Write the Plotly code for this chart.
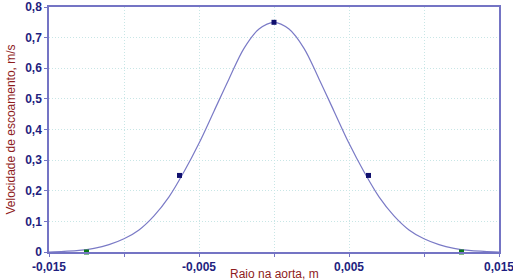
import plotly.graph_objects as go

# Curve (radius in m, velocity in m/s)
radius = [-0.015, -0.014, -0.013, -0.012, -0.011, -0.010, -0.009, -0.008,
          -0.007, -0.006, -0.005, -0.004, -0.003, -0.002, -0.001, 0.0,
          0.001, 0.002, 0.003, 0.004, 0.005, 0.006, 0.007, 0.008,
          0.009, 0.010, 0.011, 0.012, 0.013, 0.014, 0.015]
velocity = [0.0, 0.002, 0.005, 0.012, 0.024, 0.043, 0.072, 0.118,
            0.18, 0.262, 0.355, 0.46, 0.565, 0.665, 0.728, 0.75,
            0.728, 0.665, 0.565, 0.46, 0.355, 0.262, 0.18, 0.118,
            0.072, 0.043, 0.024, 0.012, 0.005, 0.002, 0.0]

# Marked points
blue_x = [-0.0063, 0.0, 0.0063]
blue_y = [0.25, 0.75, 0.25]
green_x = [-0.0125, 0.0125]
green_y = [0.0, 0.0]

x_tickvals = [-0.015, -0.01, -0.005, 0.0, 0.005, 0.01, 0.015]
x_ticktext = ["-0,015", "", "-0,005", "", "0,005", "", "0,015"]
y_tickvals = [0, 0.1, 0.2, 0.3, 0.4, 0.5, 0.6, 0.7, 0.8]
y_ticktext = ["0", "0,1", "0,2", "0,3", "0,4", "0,5", "0,6", "0,7", "0,8"]

x_title = "Raio na aorta, m"
y_title = "Velocidade de escoamento, m/s"

axis_color = "#7474c4"
label_color = "#1f1f80"
title_color = "#8e1c1c"
grid_color = "#c8e6e6"

fig = go.Figure()
fig.add_trace(go.Scatter(x=radius, y=velocity, mode="lines",
                         line=dict(color="#7a7ac6", width=1.2, shape="spline"),
                         hoverinfo="skip", cliponaxis=False))
fig.add_trace(go.Scatter(x=blue_x, y=blue_y, mode="markers",
                         marker=dict(symbol="square", size=5, color="#10106e"),
                         cliponaxis=False))
fig.add_trace(go.Scatter(x=green_x, y=green_y, mode="markers",
                         marker=dict(symbol="square", size=5, color="#0a7a1a"),
                         cliponaxis=False))

fig.update_layout(
    width=513, height=280,
    margin=dict(l=49, r=14, t=7, b=28),
    paper_bgcolor="white", plot_bgcolor="white",
    showlegend=False,
    font=dict(family="Liberation Sans, Arial, sans-serif", size=12, color=label_color),
)
fig.update_xaxes(
    range=[-0.015, 0.015], tickvals=x_tickvals, ticktext=x_ticktext,
    showline=True, linecolor=axis_color, linewidth=1.5, mirror=True,
    ticks="outside", ticklen=3, tickcolor=axis_color,
    showgrid=True, gridcolor=grid_color, griddash="1px,2px", gridwidth=1,
    zeroline=False, ticklabeloverflow="allow", automargin=False,
    tickfont=dict(size=12, color=label_color, weight="bold"),
)
fig.update_yaxes(
    range=[0, 0.8], tickvals=y_tickvals, ticktext=y_ticktext,
    showline=True, linecolor=axis_color, linewidth=1.5, mirror=True,
    ticks="outside", ticklen=3, tickcolor=axis_color,
    showgrid=True, gridcolor=grid_color, griddash="1px,2px", gridwidth=1,
    zeroline=False, ticklabeloverflow="allow", automargin=False,
    tickfont=dict(size=12, color=label_color, weight="bold"),
)
fig.add_annotation(text=x_title, xref="paper", yref="paper", x=0.5, y=0,
                   yshift=-22, xanchor="center", yanchor="middle", showarrow=False,
                   font=dict(size=12, color=title_color))
fig.add_annotation(text=y_title, xref="paper", yref="paper", x=0, y=0.5,
                   xshift=-39, xanchor="center", yanchor="middle", showarrow=False,
                   textangle=-90, font=dict(size=12, color=title_color))

fig.write_html("out.html")
